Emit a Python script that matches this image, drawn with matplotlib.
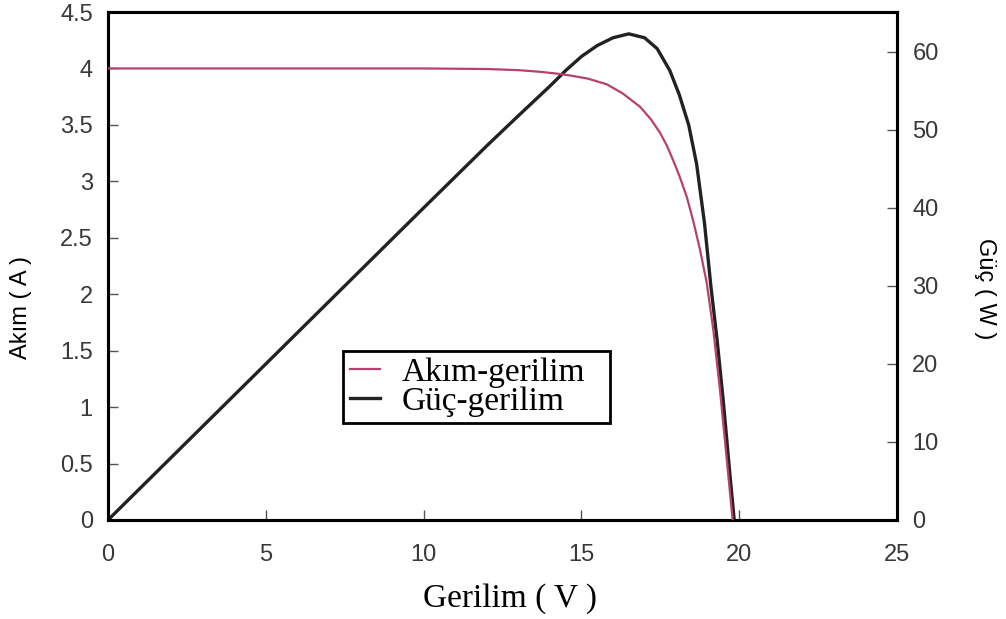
import matplotlib
matplotlib.use('Agg')
import matplotlib.pyplot as plt

# Akım-gerilim egrisi (V, A) - okunan degerler
v_akim = [0, 5, 10, 12, 13, 13.7, 14.2, 14.7, 15.2, 15.8, 16.3, 16.86, 17.2,
          17.49, 17.7, 17.9, 18.1, 18.34, 18.55, 18.76, 18.97, 19.18, 19.39,
          19.6, 19.79]
akim = [4.0, 4.0, 4.0, 3.995, 3.985, 3.97, 3.955, 3.935, 3.91, 3.86, 3.78,
        3.66, 3.55, 3.43, 3.32, 3.19, 3.05, 2.86, 2.64, 2.39, 2.1, 1.68, 1.15,
        0.55, 0.0]

# Güç-gerilim egrisi (V, W)
v_guc = [0, 5, 10, 12, 13, 14, 14.5, 15, 15.5, 16, 16.5, 17, 17.4, 17.8, 18.1,
         18.4, 18.65, 18.9, 19.1, 19.3, 19.5, 19.7, 19.84]
guc = [0, 20, 40, 47.95, 51.8, 55.6, 57.6, 59.4, 60.8, 61.8, 62.3, 61.8, 60.4,
       57.6, 54.5, 50.6, 45.6, 38.0, 30.0, 23.0, 15.0, 6.0, 0]

x_ticks = [0, 5, 10, 15, 20, 25]
y1_ticks = [0, 0.5, 1, 1.5, 2, 2.5, 3, 3.5, 4, 4.5]
y1_labels = ['0', '0.5', '1', '1.5', '2', '2.5', '3', '3.5', '4', '4.5']
y2_ticks = [0, 10, 20, 30, 40, 50, 60]

tick_col = '#383838'
plt.rcParams['font.family'] = 'Liberation Sans'

fig = plt.figure(figsize=(10.06, 6.19), dpi=100)
ax = fig.add_axes([0.1074, 0.16, 0.7843, 0.8206])
ax2 = ax.twinx()

l1, = ax.plot(v_akim, akim, color='#b8406e', lw=1.6, label='Akım-gerilim',
              solid_joinstyle='round', zorder=3)
l2, = ax2.plot(v_guc, guc, color='#222222', lw=2.4, label='Güç-gerilim',
               solid_joinstyle='round')

ax.set_xlim(0, 25)
ax.set_ylim(0, 4.5)
ax2.set_ylim(0, 65.1)
ax.set_xticks(x_ticks)
ax.set_yticks(y1_ticks)
ax.set_yticklabels(y1_labels)
ax2.set_yticks(y2_ticks)

ax.tick_params(axis='both', direction='in', length=7, width=1, pad=11,
               labelsize=17, labelcolor=tick_col, color='#555555')
ax.tick_params(axis='x', pad=17)
ax2.tick_params(axis='y', direction='in', length=7, width=1, pad=11,
                labelsize=17, labelcolor=tick_col, color='#555555')

for a in (ax, ax2):
    for s in a.spines.values():
        s.set_linewidth(2.2)
        s.set_color('black')

ax.set_ylabel('Akım ( A )', fontsize=17)
ax.yaxis.set_label_coords(-0.096, 0.419)
ax2.set_ylabel('Güç ( W )', fontsize=17, rotation=-90, va='center')
ax2.yaxis.set_label_coords(1.1115, 0.455)
ax.set_xlabel('Gerilim ( V )', family='Liberation Serif', fontsize=24)
ax.xaxis.set_label_coords(0.5095, -0.125)

# legend on the top axes so it sits over both curves
ax.set_zorder(ax2.get_zorder() + 1)
ax.patch.set_visible(False)
leg = ax.legend(handles=[l1, l2], loc='upper left',
                bbox_to_anchor=(0.298, 0.183, 0.338, 0.15), mode='expand',
                prop={'family': 'Liberation Serif', 'size': 24},
                fancybox=False, framealpha=1, edgecolor='black',
                handlelength=0.9, handletextpad=0.65, borderpad=0.2,
                labelspacing=-0.05, borderaxespad=0)
leg.get_frame().set_linewidth(2)

plt.savefig('out.png', dpi=100)
